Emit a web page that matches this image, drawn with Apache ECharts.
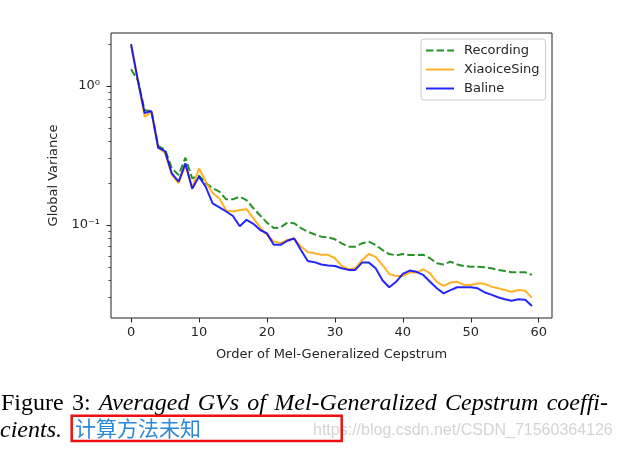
<!DOCTYPE html>
<html><head><meta charset="utf-8">
<script src="https://cdn.jsdelivr.net/npm/echarts@6/dist/echarts.min.js"></script>
<style>html,body{margin:0;padding:0;background:#fff}#c{width:625px;height:450px}</style>
</head><body><div id="c"></div>
<script>
const orders = [0,1,2,3,4,5,6,7,8,9,10,11,12,13,14,15,16,17,18,19,20,21,22,23,24,25,26,27,28,29,30,31,32,33,34,35,36,37,38,39,40,41,42,43,44,45,46,47,48,49,50,51,52,53,54,55,56,57,58,59];
const recording = [1.32,1.1,0.67,0.66,0.37,0.35,0.256,0.229,0.305,0.217,0.226,0.2,0.184,0.174,0.153,0.153,0.16,0.151,0.132,0.117,0.104,0.095,0.096,0.104,0.103,0.095,0.0895,0.0857,0.0824,0.0815,0.0789,0.0738,0.0698,0.0698,0.0738,0.0759,0.0718,0.066,0.0618,0.0605,0.0618,0.0608,0.0608,0.061,0.0576,0.053,0.052,0.0545,0.052,0.0507,0.05,0.05,0.0497,0.0488,0.0475,0.0467,0.0457,0.0457,0.0457,0.0437];
const xiaoice = [2.0,1.1,0.6,0.65,0.36,0.33,0.23,0.2,0.27,0.185,0.256,0.205,0.17,0.155,0.127,0.125,0.128,0.13,0.112,0.096,0.085,0.076,0.074,0.078,0.08,0.07,0.064,0.0625,0.061,0.061,0.0576,0.0507,0.048,0.049,0.056,0.0618,0.059,0.0515,0.0444,0.043,0.043,0.0454,0.0454,0.048,0.0449,0.039,0.0364,0.0385,0.039,0.037,0.037,0.038,0.0378,0.036,0.035,0.034,0.0331,0.034,0.0336,0.03];
const baline = [2.0,1.1,0.64,0.66,0.36,0.34,0.235,0.205,0.278,0.182,0.223,0.188,0.143,0.134,0.125,0.116,0.098,0.109,0.102,0.092,0.087,0.072,0.072,0.077,0.08,0.066,0.055,0.054,0.052,0.051,0.0507,0.0488,0.0475,0.0475,0.0536,0.0536,0.0488,0.04,0.0356,0.039,0.0444,0.047,0.046,0.0437,0.039,0.035,0.0322,0.034,0.0356,0.0356,0.0356,0.035,0.0328,0.0315,0.0302,0.0292,0.0285,0.0292,0.029,0.0261];
const seriesNames = ['Recording','XiaoiceSing','Baline'];
const xTicks = [0,10,20,30,40,50,60];
const yMajorTicks = [0.1, 1];
const yMinorTicks = [0.03,0.04,0.05,0.06,0.07,0.08,0.09,0.2,0.3,0.4,0.5,0.6,0.7,0.8,0.9,2];
const yTickLabels = {'0.1':'10\u207B\u00B9', '1':'10\u2070'};
const xTitle = 'Order of Mel-Generalized Cepstrum';
const yTitle = 'Global Variance';
const captionUpright = ['Figure', '3:'];
const captionItalic = ['Averaged', 'GVs', 'of', 'Mel-Generalized', 'Cepstrum', 'coeffi-'];
const captionLine2 = 'cients.';
const noteText = '计算方法未知';
const watermark = 'https://blog.csdn.net/CSDN_71560364126';

const pair = arr => orders.map((o, i) => [o, arr[i]]);
const TXT = '#262626';

// justified first caption line
const FONT_UP = '24px "Liberation Serif"';
const FONT_IT = 'italic 24px "Liberation Serif"';
const mctx = document.createElement('canvas').getContext('2d');
const words = captionUpright.map(w => ({w, f: FONT_UP})).concat(captionItalic.map(w => ({w, f: FONT_IT})));
let total = 0;
words.forEach(o => { mctx.font = o.f; o.width = mctx.measureText(o.w).width; total += o.width; });
const lineStart = 1, lineEnd = 608;
const gap = (lineEnd - lineStart - total) / (words.length - 1);
let cx = lineStart;
const captionGraphics = words.map(o => {
  const g = {type: 'text', x: cx, y: 404, style: {text: o.w, font: o.f, fill: '#000', verticalAlign: 'middle'}};
  cx += o.width + gap;
  return g;
});

const chart = echarts.init(document.getElementById('c'), null, {renderer: 'canvas'});
const yBase = {
  type: 'log', logBase: 10, min: 0.0214, max: 2.41, position: 'left',
  axisLine: {show: false, onZero: false}, splitLine: {show: false}, minorTick: {show: false}
};
chart.setOption({
  animation: false,
  backgroundColor: '#fff',
  grid: {left: 111, top: 33, right: 73, bottom: 132, show: true, borderColor: '#222', borderWidth: 1, backgroundColor: 'transparent'},
  xAxis: {
    type: 'value', min: -2.95, max: 61.95,
    name: xTitle, nameLocation: 'middle', nameGap: 30,
    nameTextStyle: {fontSize: 13, color: TXT, fontFamily: 'DejaVu Sans'},
    axisLine: {show: false, onZero: false}, splitLine: {show: false},
    axisTick: {show: true, length: 4.5, inside: false, lineStyle: {color: '#222', width: 1}, customValues: xTicks},
    axisLabel: {customValues: xTicks, margin: 8, fontSize: 13, color: TXT, fontFamily: 'DejaVu Sans'}
  },
  yAxis: [
    Object.assign({}, yBase, {
      name: yTitle, nameLocation: 'middle', nameGap: 45,
      nameTextStyle: {fontSize: 13, color: TXT, fontFamily: 'DejaVu Sans'},
      axisTick: {show: true, length: 4.5, lineStyle: {color: '#222', width: 1}, customValues: yMajorTicks},
      axisLabel: {customValues: yMajorTicks, margin: 11, fontSize: 13, color: TXT, fontFamily: 'DejaVu Sans',
        formatter: v => yTickLabels[String(+v.toPrecision(3))] || ''}
    }),
    Object.assign({}, yBase, {
      axisTick: {show: true, length: 2.6, lineStyle: {color: '#222', width: 0.8}, customValues: yMinorTicks},
      axisLabel: {show: false, customValues: yMinorTicks}
    })
  ],
  legend: {
    data: seriesNames, orient: 'vertical', left: 421, top: 39,
    padding: [5, 6, 5, 4], itemGap: 6, itemWidth: 28, itemHeight: 14,
    itemStyle: {opacity: 0},
    borderColor: '#cccccc', borderWidth: 1, borderRadius: 3, backgroundColor: 'rgba(255,255,255,0.8)',
    textStyle: {fontSize: 13, color: TXT, fontFamily: 'DejaVu Sans', padding: [0, 0, 0, 5]}
  },
  series: [
    {name: seriesNames[0], type: 'line', data: pair(recording), symbol: 'none', yAxisIndex: 0,
     lineStyle: {width: 2, color: '#008000', type: [7.4, 3.2], opacity: 0.85}, itemStyle: {color: '#008000'}},
    {name: seriesNames[1], type: 'line', data: pair(xiaoice), symbol: 'none', yAxisIndex: 0,
     lineStyle: {width: 2, color: '#ffa500', opacity: 0.85}, itemStyle: {color: '#ffa500'}},
    {name: seriesNames[2], type: 'line', data: pair(baline), symbol: 'none', yAxisIndex: 0,
     lineStyle: {width: 2, color: '#0000ff', opacity: 0.85}, itemStyle: {color: '#0000ff'}}
  ],
  graphic: captionGraphics.concat([
    {type: 'text', x: 0, y: 431, style: {text: captionLine2, font: FONT_IT, fill: '#000', verticalAlign: 'middle'}},
    {type: 'text', x: 313, y: 431, style: {text: watermark, font: '16px "Liberation Sans"', fill: '#d4d4d4', verticalAlign: 'middle'}},
    {type: 'rect', shape: {x: 71.7, y: 415.7, width: 270, height: 25.3}, style: {fill: 'none', stroke: '#ee1111', lineWidth: 2.5}},
    {type: 'text', x: 75, y: 428.5, style: {text: noteText, font: '21px "Noto Sans CJK SC"', fill: '#2b88d8', verticalAlign: 'middle'}}
  ])
});
</script>
</body></html>
